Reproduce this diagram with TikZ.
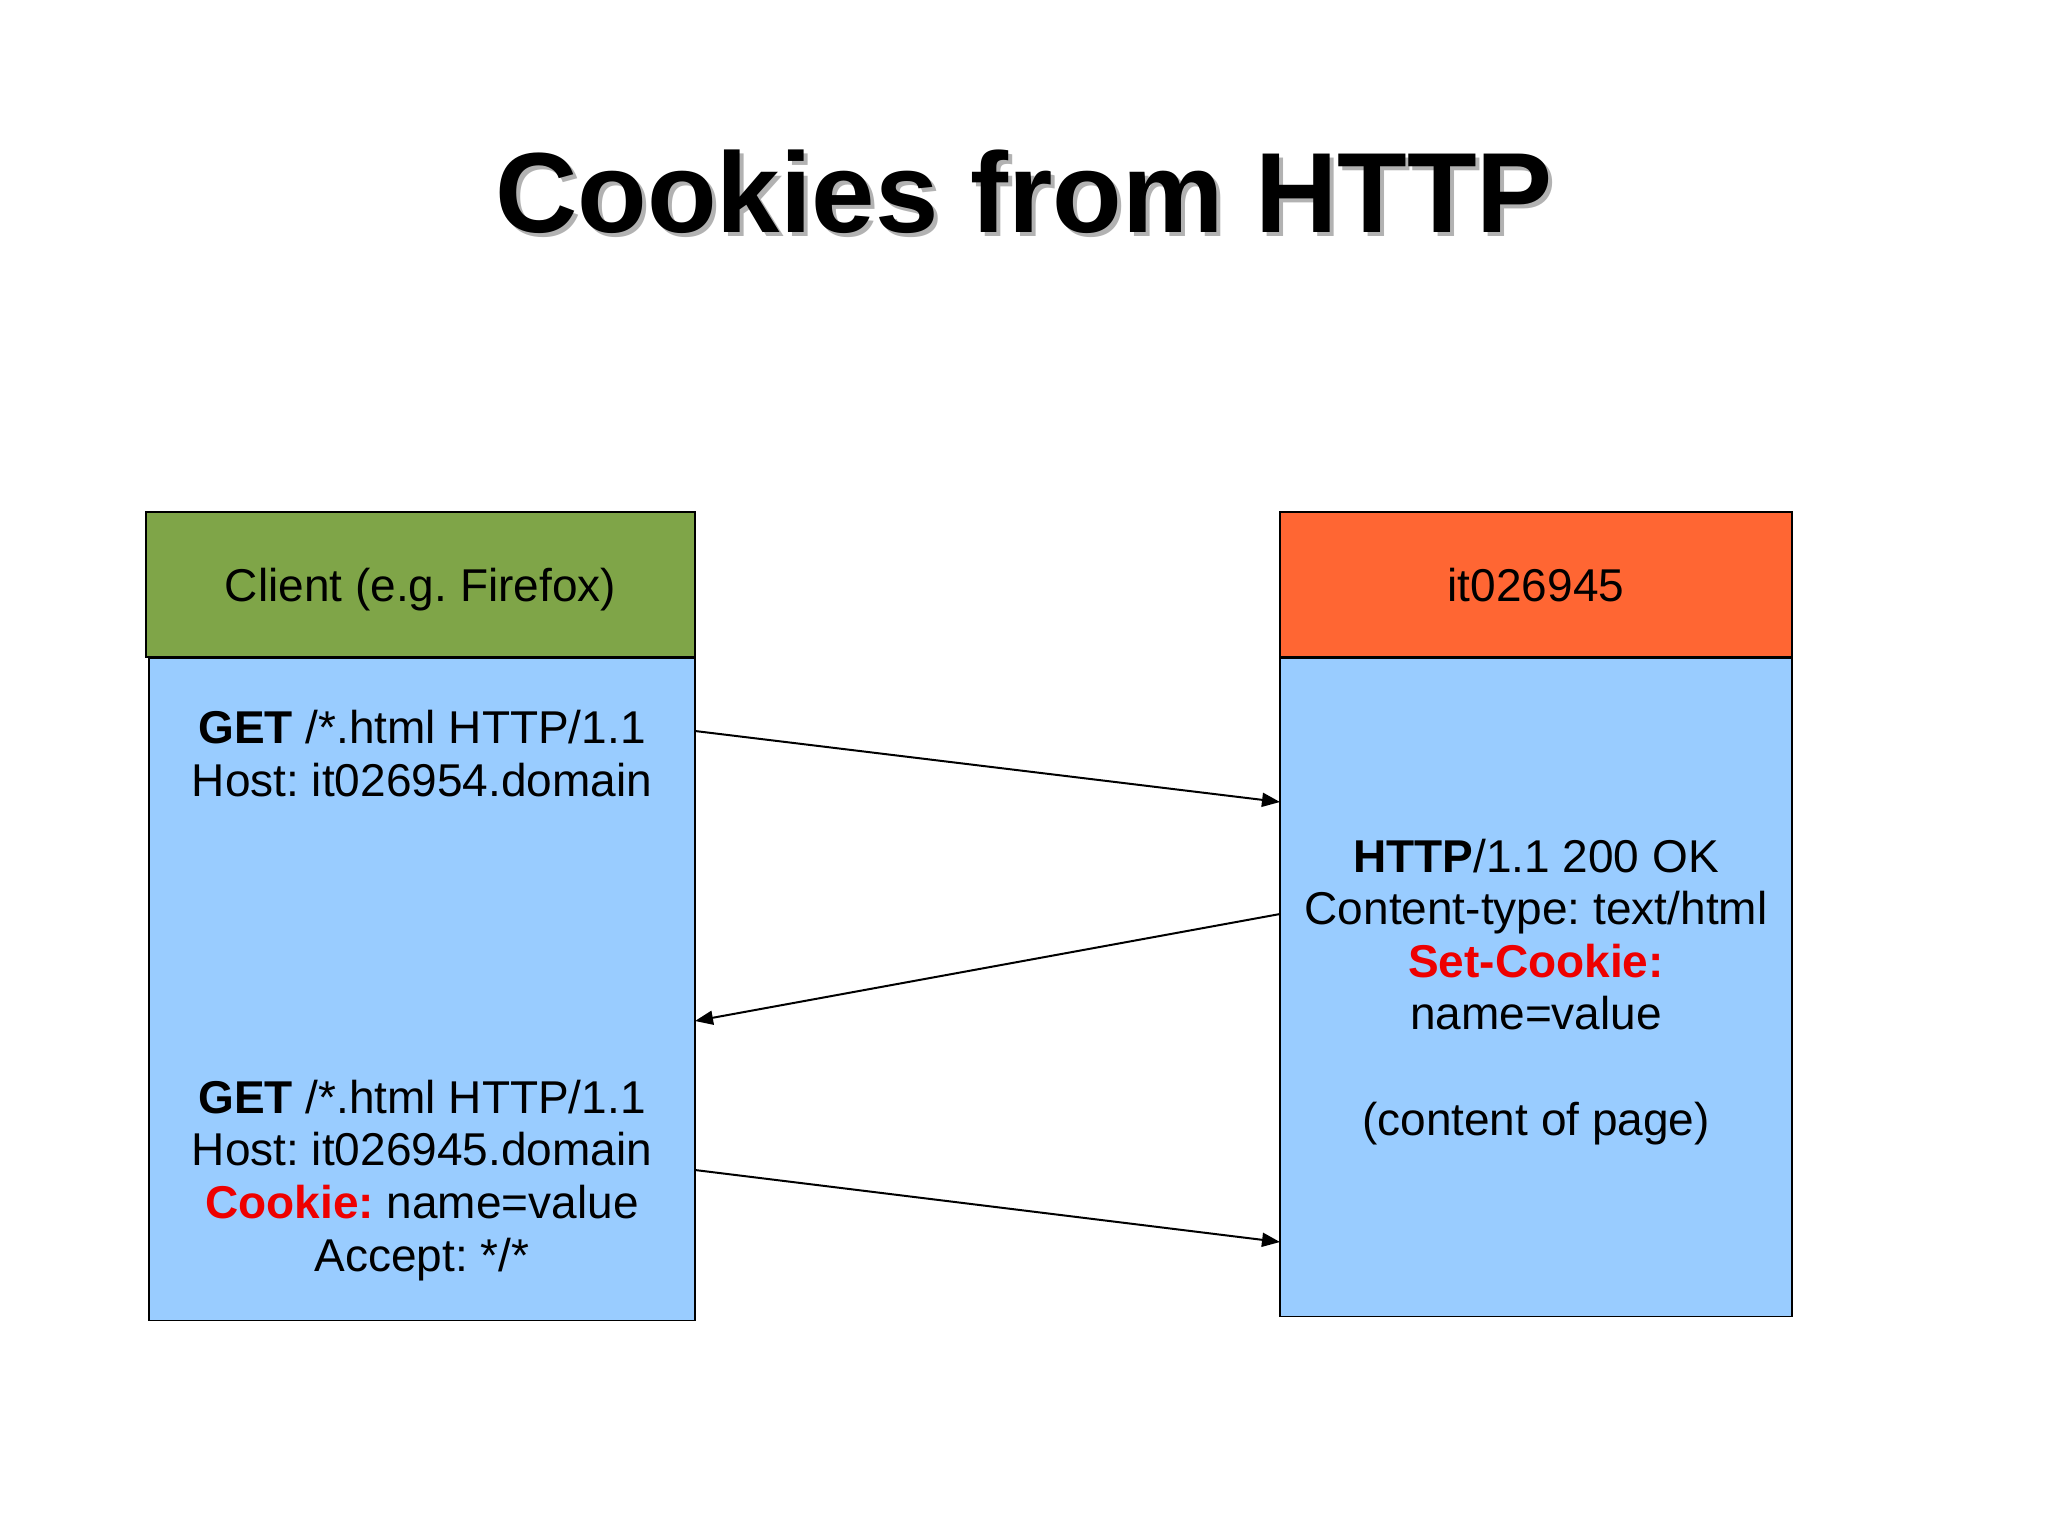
\documentclass[tikz,border=0pt]{standalone}
\usepackage{fontspec}
\setmainfont{Liberation Sans}
\usetikzlibrary{arrows.meta, positioning}
\frenchspacing

\definecolor{clientgreen}{RGB}{127,165,72}
\definecolor{serverorange}{RGB}{255,102,51}
\definecolor{bodyblue}{RGB}{153,204,255}
\definecolor{cookiered}{RGB}{238,0,0}

\newcommand{\cookiekey}[1]{\textcolor{cookiered}{\textbf{#1}}}

\begin{document}
\begin{tikzpicture}[
    x=0.5pt, y=-0.5pt,
    every node/.style={font=\fontsize{23}{26.3}\selectfont},
    head/.style={rectangle, draw, line width=0.8pt, minimum width=#1, minimum height=72.5pt, inner sep=0pt, text height=16.5pt, text depth=0pt},
    lane/.style={rectangle, draw, fill=bodyblue, line width=0.8pt, minimum width=#1, inner sep=0pt},
    msg/.style={align=center, inner sep=0pt, anchor=base},
    arrow/.style={-{Triangle[length=9pt, width=7pt]}, line width=1pt},
]

\useasboundingbox[fill=white] (0,0) rectangle (2048,1536);

% title with its shadow
\node[text=black!30, anchor=base, font=\fontsize{57}{60}\selectfont\bfseries] (titleshadow) at (1028,236) {Cookies from HTTP};
\node[anchor=base, font=\fontsize{57}{60}\selectfont\bfseries] (title) at (1024,232) {Cookies from HTTP};

% client side
\node[head=274.5pt, fill=clientgreen] (clienthead) at (420.5,584.5) {Client (e.g. Firefox)};
\node[lane=273pt, minimum height=331pt, below=0pt of clienthead, xshift=0.75pt] (clientbody) {};

% server side
\node[head=256pt, fill=serverorange] (serverhead) at (1536,584.5) {it026945};
\node[lane=256pt, minimum height=329pt, below=0pt of serverhead] (serverbody) {};

% messages (base = last line)
\node[msg] (req1) at (422,796) {\textbf{GET} /*.html HTTP/1.1\\Host: it026954.domain};
\node[msg] (resp) at (1536,1135) {\textbf{HTTP}/1.1 200 OK\\Content-type: text/html\\\cookiekey{Set-Cookie:}\\name=value\\[26.3pt](content of page)};
\node[msg] (req2) at (422,1271) {\textbf{GET} /*.html HTTP/1.1\\Host: it026945.domain\\\cookiekey{Cookie:} name=value\\Accept: */*};

\coordinate (req1out) at (695,731);
\coordinate (req1in) at (1280,802);
\coordinate (respout) at (1280,914);
\coordinate (respin) at (695,1021);
\coordinate (req2out) at (695,1170);
\coordinate (req2in) at (1280,1242);

\draw[arrow] (req1out) -- (req1in);
\draw[arrow] (respout) -- (respin);
\draw[arrow] (req2out) -- (req2in);
\end{tikzpicture}
\end{document}
